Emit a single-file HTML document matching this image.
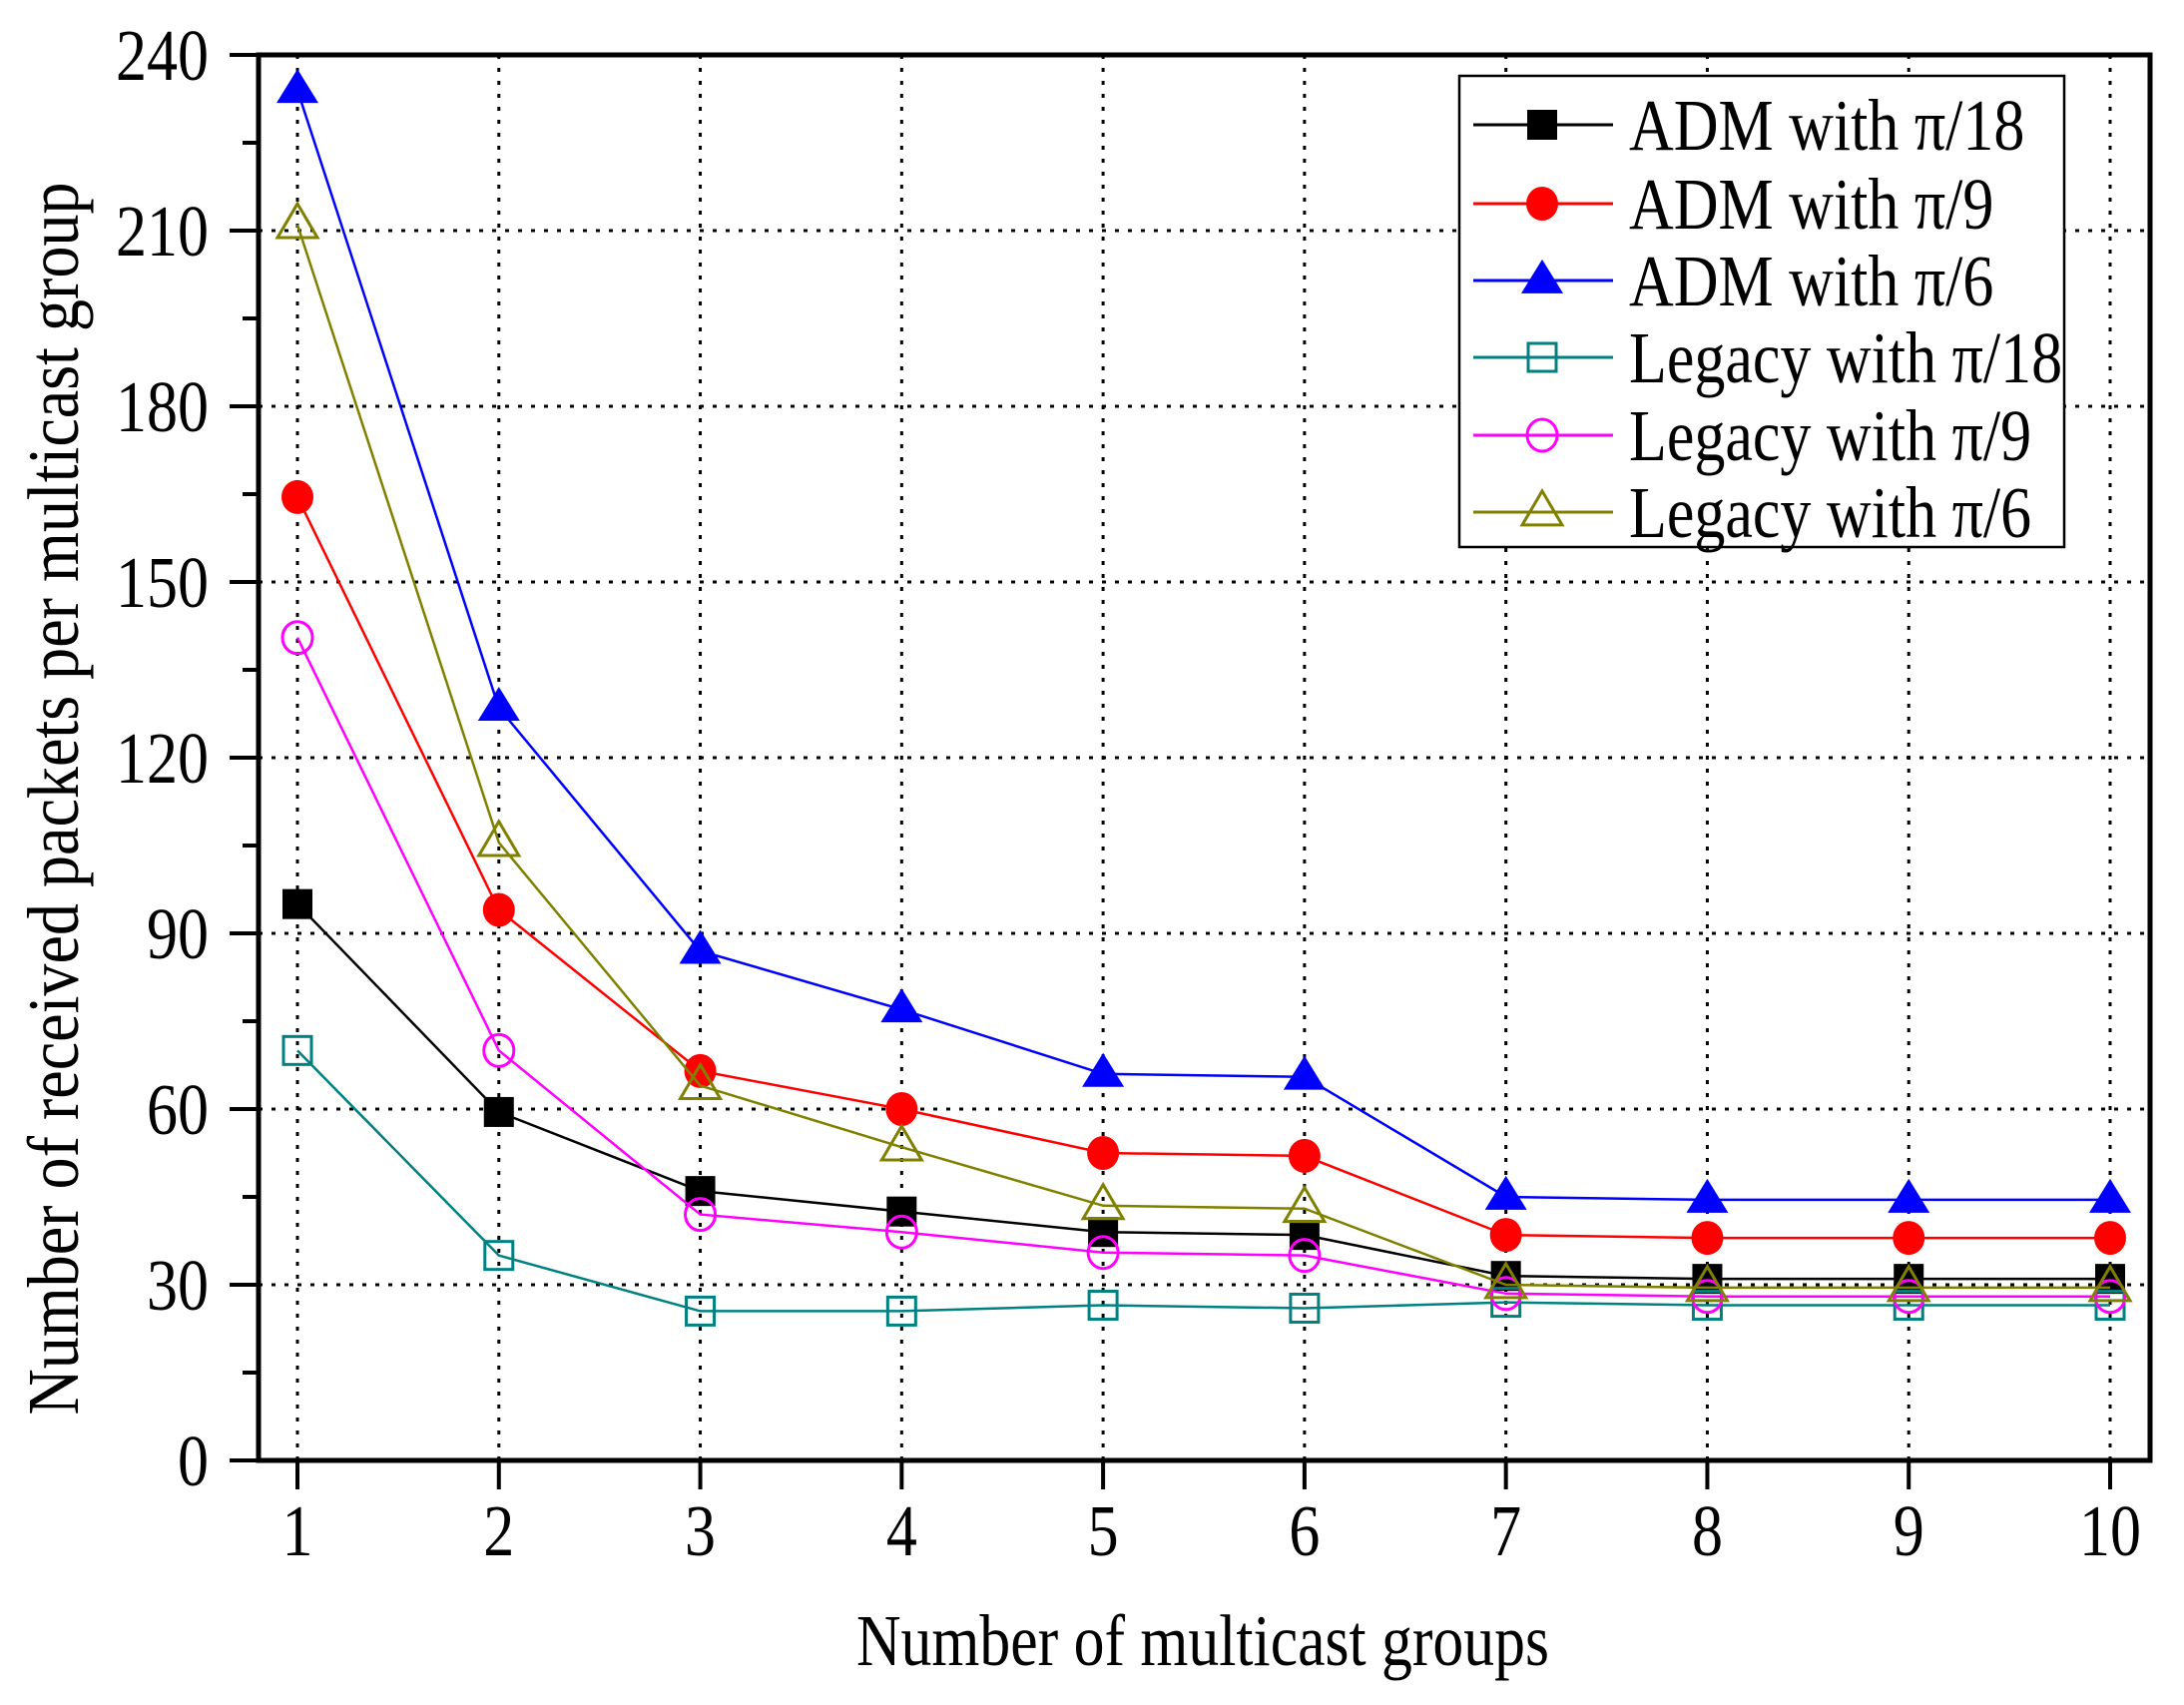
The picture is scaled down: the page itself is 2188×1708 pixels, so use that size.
<!DOCTYPE html>
<html><head><meta charset="utf-8"><style>
html,body{margin:0;padding:0;background:#fff;}
svg{display:block;font-family:"Liberation Serif","Times New Roman",serif;}
</style></head><body>
<svg id="chart" width="2188" height="1708" viewBox="0 0 2188 1708" xmlns="http://www.w3.org/2000/svg">
<rect width="2188" height="1708" fill="#fff"/>
<g id="grid"></g>
<g id="series"></g>
<g id="axes"></g>
<text transform="translate(1205,1668) scale(1,1.18)" x="0" y="0" font-size="62" text-anchor="middle" textLength="694" lengthAdjust="spacingAndGlyphs">Number of multicast groups</text>
<text transform="translate(78,800) rotate(-90) scale(1,1.18)" font-size="62" text-anchor="middle" textLength="1235" lengthAdjust="spacingAndGlyphs">Number of received packets per multicast group</text>
<g id="legend"></g>
</svg>
<script>
const categories = [1,2,3,4,5,6,7,8,9,10];
const yTicks = [0,30,60,90,120,150,180,210,240];
const seriesNames = ["ADM with \u03c0/18","ADM with \u03c0/9","ADM with \u03c0/6","Legacy with \u03c0/18","Legacy with \u03c0/9","Legacy with \u03c0/6"];
const admPi18 = [95,59.5,46,42.5,39,38.5,31.5,31,31,31];
const admPi9 = [164.5,94,66.5,60,52.5,52,38.5,38,38,38];
const admPi6 = [234,128.5,87,77,66,65.5,45,44.5,44.5,44.5];
const legacyPi18 = [70,35,25.5,25.5,26.5,26,27,26.5,26.5,26.5];
const legacyPi9 = [140.5,70,42,39,35.5,35,28.5,28,28,28];
const legacyPi6 = [211,105.5,64,53.5,43.5,43,30,29.5,29.5,29.5];

const NS="http://www.w3.org/2000/svg";
const L=259, R=2154, T=55, B=1463;
const X1=298, X10=2114;
function xs(v){return X1+(v-1)*(X10-X1)/9;}
function ys(v){return B-v*(B-T)/240;}
function mk(tag,attrs,parent){const e=document.createElementNS(NS,tag);for(const k in attrs)e.setAttribute(k,attrs[k]);parent.appendChild(e);return e;}
function tallText(x,y,anchor,str,parent){
  const e=mk('text',{transform:`translate(${x},${y}) scale(1,1.18)`,x:0,y:0,'font-size':62,'text-anchor':anchor},parent);
  e.textContent=str;
  return e;
}

const grid=document.getElementById('grid');
const axes=document.getElementById('axes');
categories.forEach(c=>{
  const g=mk('line',{x1:xs(c),x2:xs(c),y1:T,y2:B,stroke:'#000','stroke-width':3,'stroke-dasharray':'4,9'},grid);
  
  
  const t=mk('line',{x1:xs(c),x2:xs(c),y1:B,y2:B+29,stroke:'#000','stroke-width':4},axes);
  
  
  const lb=tallText(xs(c),1558,'middle',c,axes);
  
  
});
yTicks.forEach((v,i)=>{
  if(v>0&&v<240){
    const g=mk('line',{x1:L,x2:R,y1:ys(v),y2:ys(v),stroke:'#000','stroke-width':3,'stroke-dasharray':'4,9'},grid);
    
    
  }
  const t=mk('line',{x1:L-29,x2:L,y1:ys(v),y2:ys(v),stroke:'#000','stroke-width':4},axes);
  
  
  if(i<yTicks.length-1){
    const mv=(v+yTicks[i+1])/2;
    const m=mk('line',{x1:L-16,x2:L,y1:ys(mv),y2:ys(mv),stroke:'#000','stroke-width':4},axes);
    
    
  }
  const lb=tallText(209,ys(v)+25,'end',v,axes);
  
  
});
const frame=mk('rect',{x:L,y:T,width:R-L,height:B-T,fill:'none',stroke:'#000','stroke-width':5},axes);



const styles=[
  {data:admPi18,color:'#000000',shape:'square',fill:true},
  {data:admPi9,color:'#ff0000',shape:'circle',fill:true},
  {data:admPi6,color:'#0000ff',shape:'triangle',fill:true},
  {data:legacyPi18,color:'#008080',shape:'square',fill:false},
  {data:legacyPi9,color:'#ff00ff',shape:'circle',fill:false},
  {data:legacyPi6,color:'#808000',shape:'triangle',fill:false}
];
function marker(shape,cx,cy,color,fill,parent){
  const f=fill?color:'none', sw=fill?0:3;
  let e;
  if(shape==='square'){const s=fill?30:28;e=mk('rect',{x:cx-s/2,y:cy-s/2,width:s,height:s,fill:f,stroke:color,'stroke-width':sw},parent);}
  else if(shape==='circle'){e=mk('ellipse',{cx:cx,cy:cy,rx:fill?16:15,ry:fill?17:16,fill:f,stroke:color,'stroke-width':sw},parent);}
  else {const h=34,w=fill?42:40;e=mk('polygon',{points:`${cx},${cy-h*0.62} ${cx-w/2},${cy+h*0.38} ${cx+w/2},${cy+h*0.38}`,fill:f,stroke:color,'stroke-width':sw},parent);}
  return e;
}
const sl=document.getElementById('series');
styles.forEach((s,si)=>{
  const g=mk('g',{},sl);
  
  
  const pts=s.data.map((v,i)=>xs(categories[i])+','+ys(v)).join(' ');
  const pl=mk('polyline',{points:pts,fill:'none',stroke:s.color,'stroke-width':2.5},g);
  
  
  s.data.forEach((v,i)=>{
    const m=marker(s.shape,xs(categories[i]),ys(v),s.color,s.fill,g);
    
    
  });
});

const lg=document.getElementById('legend');
const box=mk('rect',{x:1462,y:76,width:606,height:472,fill:'#fff',stroke:'#000','stroke-width':2.5},lg);


const rowY=[125,204,281,358,436,513];
styles.forEach((s,i)=>{
  const g=mk('g',{},lg);
  
  
  mk('line',{x1:1476,x2:1616,y1:rowY[i],y2:rowY[i],stroke:s.color,'stroke-width':3},g);
  marker(s.shape,1545,rowY[i],s.color,s.fill,g);
  tallText(1632,rowY[i]+25,'start',seriesNames[i],g);
});
</script>
</body></html>
